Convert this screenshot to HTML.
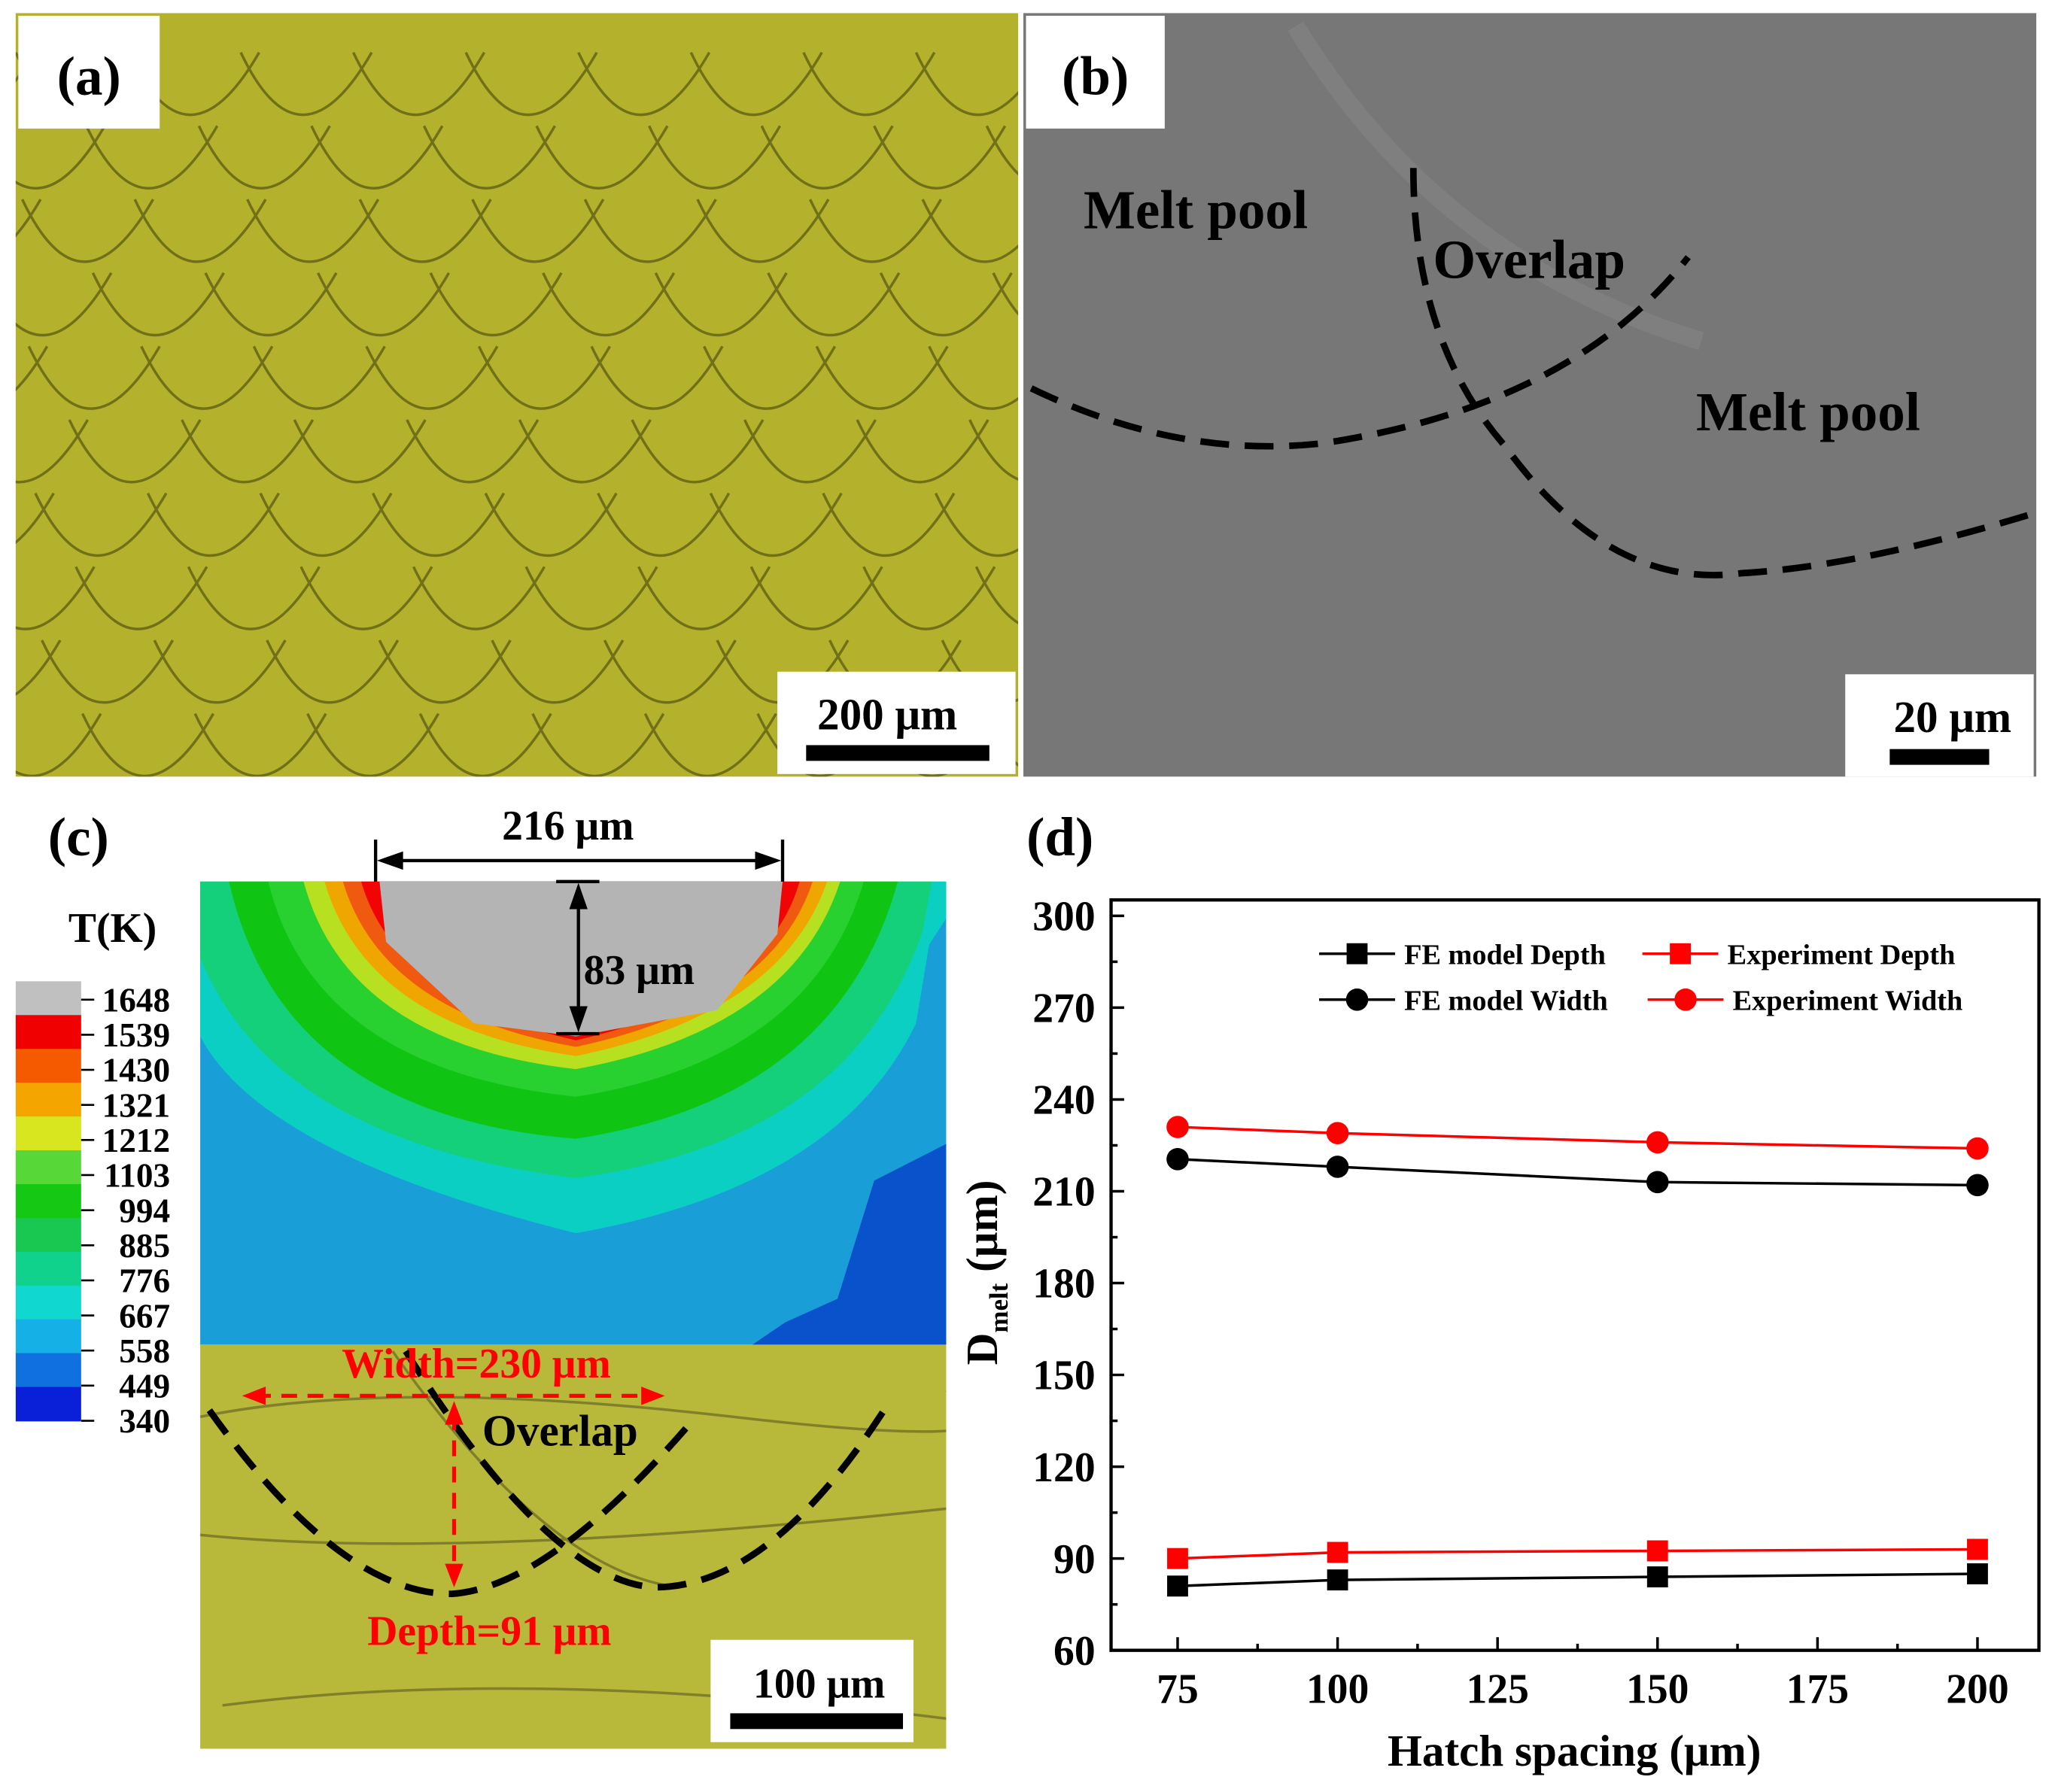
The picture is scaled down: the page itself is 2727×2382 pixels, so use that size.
<!DOCTYPE html>
<html><head><meta charset="utf-8"><style>
html,body{margin:0;padding:0;background:#fff;}
svg{display:block;}
text{font-family:"Liberation Serif",serif;font-weight:bold;}
</style></head><body>
<svg id="fig" width="2727" height="2382" viewBox="0 0 1568 1366" preserveAspectRatio="none" xmlns="http://www.w3.org/2000/svg">
<defs>
<clipPath id="clipA"><rect x="12" y="10" width="766" height="582"/></clipPath>
<clipPath id="clipM"><rect x="153" y="1025" width="570" height="308"/></clipPath>
</defs>
<!-- Panel a -->
<g>
<rect x="12" y="10" width="766" height="582" fill="#b4b22c"/>
<g id="arcsA" clip-path="url(#clipA)" fill="none" stroke="#5a5a12" stroke-width="2" opacity="0.75"></g>
<rect x="14" y="12" width="108" height="86" fill="#fff"/>
<text x="68" y="72" font-size="42" text-anchor="middle">(a)</text>
<rect x="594" y="512" width="182" height="78" fill="#fff"/>
<text x="678" y="556" font-size="34" text-anchor="middle">200 μm</text>
<rect x="616" y="568" width="140" height="12" fill="#000"/>
</g>
<!-- Panel b -->
<g>
<rect x="782" y="10" width="774" height="582" fill="#777777"/>
<path d="M990,20 Q1100,200 1300,260" stroke="#888" stroke-width="14" fill="none" opacity="0.5"/>
<rect x="784" y="12" width="106" height="86" fill="#fff"/>
<text x="837" y="72" font-size="42" text-anchor="middle">(b)</text>
<g fill="none" stroke="#000" stroke-width="5" stroke-dasharray="22,12">
<path d="M788,296 Q900,350 1010,338 Q1200,310 1290,196"/>
<path d="M1080,128 Q1080,260 1150,340 Q1230,450 1330,437 Q1420,432 1552,392"/>
</g>
<text x="828" y="174" font-size="42" fill="#000">Melt pool</text>
<text x="1095" y="212" font-size="42" fill="#000">Overlap</text>
<text x="1296" y="328" font-size="42" fill="#000">Melt pool</text>
<rect x="1410" y="514" width="144" height="78" fill="#fff"/>
<text x="1492" y="558" font-size="34" text-anchor="middle">20 μm</text>
<rect x="1444" y="571" width="76" height="12" fill="#000"/>
</g>
<!-- Panel c -->
<g>
<text x="60" y="652" font-size="42" text-anchor="middle">(c)</text>
<text x="86" y="718" font-size="32" text-anchor="middle">T(K)</text>
<g id="cbar"></g>
<g>
<rect x="153" y="672" width="570" height="353" fill="#1a9ed8"/>
<path d="M723,872 L668,900 L640,990 L600,1008 L575,1025 L723,1025 Z" fill="#0a52cc"/>
<path d="M153,672 L153,790 Q200,880 440,940 Q640,905 700,780 L710,720 L723,700 L723,672 Z" fill="#0ccfc4"/>
<path d="M153,672 L153,730 Q210,870 440,898 Q650,870 705,710 L712,672 Z" fill="#14d07a"/>
<path d="M175,672 Q215,850 440,868 Q640,838 686,672 Z" fill="#10c414"/>
<path d="M205,672 Q240,815 440,836 Q620,808 660,672 Z" fill="#28d030"/>
<path d="M232,672 Q265,795 440,815 Q605,785 642,672 Z" fill="#b6e020"/>
<path d="M248,672 Q280,782 440,805 Q597,773 632,672 Z" fill="#f0a600"/>
<path d="M262,672 Q292,772 440,798 Q590,766 621,672 Z" fill="#f05a10"/>
<path d="M276,672 Q302,762 440,793 Q586,760 611,672 Z" fill="#f00404"/>
<path d="M290,672 L295,718 L362,780 L440,790 L548,770 L594,712 L598,672 Z" fill="#b4b4b4"/>
</g>
<g stroke="#000" stroke-width="2.5" fill="#000">
<line x1="287" y1="640" x2="287" y2="672"/><line x1="598" y1="640" x2="598" y2="672"/>
<line x1="300" y1="656" x2="585" y2="656"/>
<polygon points="288,656 308,649 308,663" stroke="none"/><polygon points="597,656 577,649 577,663" stroke="none"/>
<line x1="425" y1="672" x2="458" y2="672"/><line x1="425" y1="788" x2="458" y2="788"/>
<line x1="442" y1="684" x2="442" y2="776"/>
<polygon points="442,673 435,693 449,693" stroke="none"/><polygon points="442,787 435,767 449,767" stroke="none"/>
</g>
<text x="434" y="640" font-size="32" text-anchor="middle">216 μm</text>
<text x="446" y="750" font-size="32">83 μm</text>
<rect x="153" y="1025" width="570" height="308" fill="#b8b83a"/>
<g clip-path="url(#clipM)" fill="none" stroke="#5a5a20" stroke-width="2" opacity="0.6">
<path d="M153,1080 Q300,1050 560,1080 T723,1060"/><path d="M153,1170 Q350,1190 723,1150"/><path d="M170,1300 Q400,1270 723,1310"/><path d="M300,1030 Q420,1200 520,1210"/>
</g>
<g fill="none" stroke="#000" stroke-width="5" stroke-dasharray="22,12">
<path d="M160,1075 Q260,1215 345,1215 Q420,1210 530,1082"/>
<path d="M310,1030 Q420,1205 500,1210 Q590,1210 680,1068"/>
</g>
<g stroke="#f00" stroke-width="3" fill="#f00">
<line x1="195" y1="1064" x2="498" y2="1064" stroke-dasharray="12,8"/>
<polygon points="185,1064 203,1057 203,1071" stroke="none"/><polygon points="508,1064 490,1057 490,1071" stroke="none"/>
<line x1="347" y1="1078" x2="347" y2="1200" stroke-dasharray="12,8"/>
<polygon points="347,1068 340,1086 354,1086" stroke="none"/><polygon points="347,1210 340,1192 354,1192" stroke="none"/>
</g>
<text x="364" y="1050" font-size="32" fill="#f00" text-anchor="middle">Width=230 μm</text>
<text x="428" y="1102" font-size="34" fill="#000" text-anchor="middle">Overlap</text>
<text x="374" y="1254" font-size="32" fill="#f00" text-anchor="middle">Depth=91 μm</text>
<rect x="543" y="1250" width="155" height="78" fill="#fff"/>
<text x="626" y="1294" font-size="32" text-anchor="middle">100 μm</text>
<rect x="558" y="1306" width="132" height="12" fill="#000"/>
</g>
<!-- Panel d -->
<g>
<text x="810" y="652" font-size="42" text-anchor="middle">(d)</text>
<g id="chart"></g>
</g>
</svg>
<script>
const NS='http://www.w3.org/2000/svg';
function mk(tag,attrs,parent){const e=document.createElementNS(NS,tag);for(const k in attrs)e.setAttribute(k,attrs[k]);parent.appendChild(e);return e;}

// ---- chart data ----
const hatch=[75,100,150,200];
const feDepth=[81,83,84,85];
const expDepth=[90,92,92.5,93];
const feWidth=[220.5,218,213,212];
const expWidth=[231,229,226,224];
const xTicks=[75,100,125,150,175,200];
const yTicks=[60,90,120,150,180,210,240,270,300];
const xMinorTicks=[87.5,112.5,137.5,162.5,187.5];
const yMinorTicks=[75,105,135,165,195,225,255,285];

// decorative arcs panel a
(function(){const g=document.getElementById('arcsA');
for(let r=0;r<11;r++){const y=40+r*56;const off=(r%2)*40;
for(let c=-1;c<10;c++){const x=12+off+c*86+((r*37)%23);
const p=mk('path',{d:`M${x},${y} Q${x+45},${y+95} ${x+100},${y}`},g);

}}})();

// colorbar
(function(){const g=document.getElementById('cbar');
const cols=['#c0c0c0','#f00000','#f55a00','#f5a500','#d8e620','#58d838','#14c814','#18c850','#10d28c','#10d8d0','#14b0e6','#1070e0','#0a20d8'];
const labs=['1648','1539','1430','1321','1212','1103','994','885','776','667','558','449','340'];
const top=748,h=(1083-748)/13;
cols.forEach((c,i)=>{const r=mk('rect',{x:12,y:top+i*h,width:50,height:h+0.5,fill:c},g);

});
labs.forEach((l,i)=>{const y=762+i*26.75;
mk('line',{x1:62,y1:y,x2:72,y2:y,stroke:'#000','stroke-width':1.5},g);
const t=mk('text',{x:130,y:y+9,'font-size':26,'text-anchor':'end'},g);t.textContent=l;

});})();

// chart
(function(){const g=document.getElementById('chart');
const L=849,R=1558,T=686,B=1258;
const xmin=64.6,xmax=209.6,ymin=60,ymax=305.2;
const X=v=>L+(v-xmin)/(xmax-xmin)*(R-L);
const Y=v=>B-(v-ymin)/(ymax-ymin)*(B-T);
const fr=mk('rect',{x:L,y:T,width:R-L,height:B-T,fill:'none',stroke:'#000','stroke-width':2.5},g);


xTicks.forEach(v=>{mk('line',{x1:X(v),y1:B,x2:X(v),y2:B-10,stroke:'#000','stroke-width':2},g);
const t=mk('text',{x:X(v),y:B+40,'font-size':32,'text-anchor':'middle'},g);t.textContent=v;

});
xMinorTicks.forEach(v=>mk('line',{x1:X(v),y1:B,x2:X(v),y2:B-5,stroke:'#000','stroke-width':2},g));
yTicks.forEach(v=>{mk('line',{x1:L,y1:Y(v),x2:L+10,y2:Y(v),stroke:'#000','stroke-width':2},g);
const t=mk('text',{x:L-12,y:Y(v)+11,'font-size':32,'text-anchor':'end'},g);t.textContent=v;

});
yMinorTicks.forEach(v=>mk('line',{x1:L,y1:Y(v),x2:L+5,y2:Y(v),stroke:'#000','stroke-width':2},g));
const xt=mk('text',{x:1203,y:1346,'font-size':34,'text-anchor':'middle'},g);xt.textContent='Hatch spacing (μm)';


const yt=mk('text',{x:0,y:0,'font-size':34,'text-anchor':'middle',transform:'translate(762,970) rotate(-90)'},g);
yt.innerHTML='D<tspan font-size="20" dy="8">melt</tspan><tspan dy="-8"> (μm)</tspan>';


const series=[{d:feDepth,c:'#000',m:'sq',n:'fe-depth'},{d:expDepth,c:'#f00',m:'sq',n:'exp-depth'},{d:feWidth,c:'#000',m:'ci',n:'fe-width'},{d:expWidth,c:'#f00',m:'ci',n:'exp-width'}];
series.forEach(s=>{const pts=hatch.map((h,i)=>X(h)+','+Y(s.d[i])).join(' ');
const pl=mk('polyline',{points:pts,fill:'none',stroke:s.c,'stroke-width':2},g);


hatch.forEach((h,i)=>{let e;if(s.m==='sq')e=mk('rect',{x:X(h)-8,y:Y(s.d[i])-8,width:16,height:16,fill:s.c},g);
else e=mk('circle',{cx:X(h),cy:Y(s.d[i]),r:8.5,fill:s.c},g);

});});
const leg=[{x:1008,y:727,c:'#000',m:'sq',t:'FE model Depth'},{x:1255,y:727,c:'#f00',m:'sq',t:'Experiment Depth'},{x:1008,y:762,c:'#000',m:'ci',t:'FE model Width'},{x:1259,y:762,c:'#f00',m:'ci',t:'Experiment Width'}];
leg.forEach(l=>{const lg=mk('g',{},g);


mk('line',{x1:l.x,y1:l.y,x2:l.x+58,y2:l.y,stroke:l.c,'stroke-width':2},lg);
if(l.m==='sq')mk('rect',{x:l.x+21,y:l.y-8,width:16,height:16,fill:l.c},lg);else mk('circle',{cx:l.x+29,cy:l.y,r:8.5,fill:l.c},lg);
const t=mk('text',{x:l.x+65,y:l.y+8,'font-size':22},lg);t.textContent=l.t;});
})();
</script>
</body></html>
